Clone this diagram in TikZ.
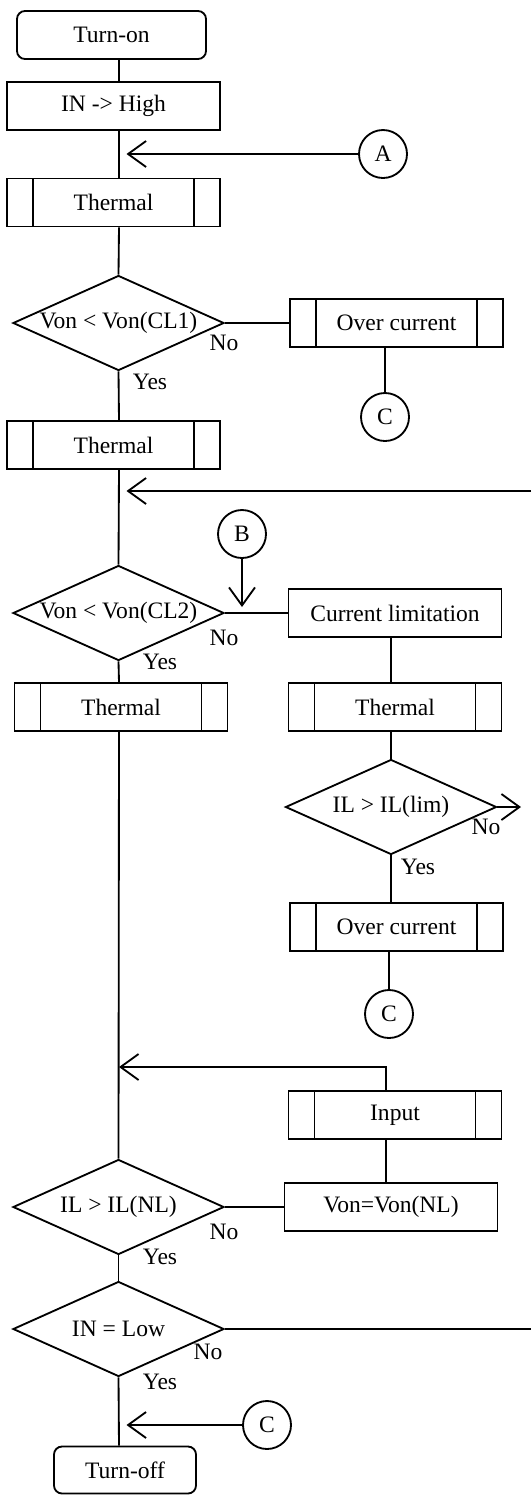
\documentclass[tikz,border=0pt]{standalone}
\usepackage{fontspec}
\setmainfont{Liberation Serif}
\usepackage{tikz}
\usetikzlibrary{positioning}
\usetikzlibrary{shapes.geometric}
\usetikzlibrary{arrows.meta}

\begin{document}
\begin{tikzpicture}

          \tikzstyle{textNode} = [font=\fontsize{13.4}{16}\selectfont, inner sep=0pt];
          \tikzstyle{stepNode} = [textNode, draw, line width=1.05pt, minimum width=4.26cm, minimum height=0.96cm];
          \tikzstyle{endNode} = [stepNode, rounded corners=0.16cm];
          \tikzstyle{subNode} = [stepNode, path picture={
              \draw[line width=1.05pt] ([xshift=0.52cm]path picture bounding box.north west) -- ([xshift=0.52cm]path picture bounding box.south west);
              \draw[line width=1.05pt] ([xshift=-0.52cm]path picture bounding box.north east) -- ([xshift=-0.52cm]path picture bounding box.south east);}];
          \tikzstyle{testNode} = [textNode, draw, diamond, aspect=2.22, line width=1.05pt, minimum width=4.22cm, minimum height=1.90cm];
          \tikzstyle{linkNode} = [textNode, draw, circle, line width=1.05pt, minimum size=0.96cm];

          \tikzstyle{normalEdge} = [line width=1.05pt];
          \tikzstyle{arrowEdge} = [line width=1.05pt, -{Straight Barb[length=0.36cm, width=0.52cm]}];

          \useasboundingbox (0,0) rectangle (10.62,-29.90);

          \coordinate (spine) at (2.38,0);
          \coordinate (loopIn) at (10.62,-9.82);
          \coordinate (limOut) at (10.42,-16.14);
          \coordinate (lowOut) at (10.62,-26.58);
          \coordinate (inputUp) at (7.72,-21.34);

          \node[endNode, minimum width=3.78cm] (turnOn) at (2.23,-0.70) {Turn-on};
          \node[stepNode] (inHigh) at (2.27,-2.12) {IN -> High};
          \node[linkNode] (linkA) at (7.66,-3.08) {A};
          \node[subNode] (thermA) at (2.27,-4.05) {Thermal};
          \node[testNode] (testCLa) at (2.37,-6.46) {Von < Von(CL1)};
          \node[subNode] (overA) at (7.93,-6.46) {Over current};
          \node[linkNode] (linkCa) at (7.70,-8.34) {C};
          \node[subNode] (thermB) at (2.27,-8.90) {Thermal};
          \node[linkNode] (linkB) at (4.84,-10.68) {B};
          \node[testNode] (testCLb) at (2.37,-12.26) {Von < Von(CL2)};
          \node[stepNode] (curLim) at (7.90,-12.26) {Current limitation};
          \node[subNode] (thermC) at (2.42,-14.14) {Thermal};
          \node[subNode] (thermD) at (7.90,-14.14) {Thermal};
          \node[testNode] (testLim) at (7.82,-16.14) {IL > IL(lim)};
          \node[subNode] (overB) at (7.93,-18.54) {Over current};
          \node[linkNode] (linkCb) at (7.78,-20.28) {C};
          \node[subNode] (input) at (7.90,-22.30) {Input};
          \node[stepNode] (vonNL) at (7.82,-24.14) {Von=Von(NL)};
          \node[testNode] (testNL) at (2.37,-24.14) {IL > IL(NL)};
          \node[testNode] (testLow) at (2.37,-26.58) {IN = Low};
          \node[linkNode] (linkCc) at (5.34,-28.50) {C};
          \node[endNode, minimum width=2.84cm, minimum height=0.94cm] (turnOff) at (2.50,-29.40) {Turn-off};

          \node[textNode] (noA) at (4.48,-6.86) {No};
          \node[textNode] (yesA) at (3.00,-7.64) {Yes};
          \node[textNode] (noB) at (4.48,-12.76) {No};
          \node[textNode] (yesB) at (3.20,-13.24) {Yes};
          \node[textNode] (noC) at (9.72,-16.54) {No};
          \node[textNode] (yesC) at (8.36,-17.34) {Yes};
          \node[textNode] (noD) at (4.48,-24.64) {No};
          \node[textNode] (yesD) at (3.20,-25.14) {Yes};
          \node[textNode] (noE) at (4.16,-27.04) {No};
          \node[textNode] (yesE) at (3.20,-27.64) {Yes};

          \draw[normalEdge] (turnOn.south -| spine) -- (inHigh.north -| spine);
          \draw[normalEdge] (inHigh.south -| spine) -- (thermA.north -| spine);
          \draw[arrowEdge, shorten >=0.15cm] (linkA) -- (linkA -| spine);
          \draw[normalEdge] (thermA.south -| spine) -- (testCLa.north);
          \draw[normalEdge] (testCLa.east) -- (overA.west);
          \draw[normalEdge] (overA.south -| linkCa) -- (linkCa.north);
          \draw[normalEdge] (testCLa.south) -- (thermB.north -| spine);
          \draw[normalEdge] (thermB.south -| spine) -- (testCLb.north);
          \draw[arrowEdge, shorten >=0.15cm] (loopIn) -- (loopIn -| spine);
          \draw[normalEdge] (testCLb.east) -- (curLim.west);
          \draw[arrowEdge, shorten >=0.12cm] (linkB) -- (linkB |- testCLb.east);
          \draw[normalEdge] (testCLb.south) -- (thermC.north -| spine);
          \draw[normalEdge] (curLim.south -| testLim.north) -- (thermD.north -| testLim.north);
          \draw[normalEdge] (thermD.south -| testLim.north) -- (testLim.north);
          \draw[arrowEdge] (testLim.east) -- (limOut);
          \draw[normalEdge] (testLim.south) -- (overB.north -| testLim.south);
          \draw[normalEdge] (overB.south -| linkCb) -- (linkCb.north);
          \draw[normalEdge] (thermC.south -| spine) -- (testNL.north);
          \draw[arrowEdge] (input.north -| inputUp) -- (inputUp) -- (inputUp -| spine);
          \draw[normalEdge] (input.south -| inputUp) -- (vonNL.north -| inputUp);
          \draw[normalEdge] (vonNL.west) -- (testNL.east);
          \draw[normalEdge] (testNL.south) -- (testLow.north);
          \draw[normalEdge] (testLow.east) -- (lowOut);
          \draw[normalEdge] (testLow.south) -- (turnOff.north -| spine);
          \draw[arrowEdge, shorten >=0.15cm] (linkCc) -- (linkCc -| spine);
        \end{tikzpicture}
\end{document}
